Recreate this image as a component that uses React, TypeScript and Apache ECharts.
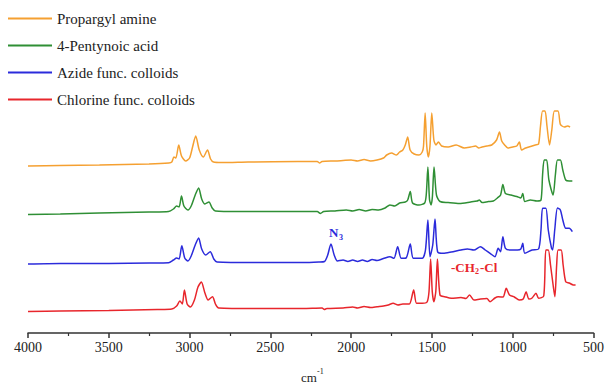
import React, { useEffect, useRef } from "react";
import * as echarts from "echarts";

const seriesNames = ["Propargyl amine", "4-Pentynoic acid", "Azide func. colloids", "Chlorine func. colloids"];
const seriesColors = ["#F5A031", "#2F8F35", "#2B2BDB", "#E8262C"];
// vertical stacking offsets of each trace
const offsets = [167, 118.5, 69, 21.5];
const xTickValues = [4000, 3500, 3000, 2500, 2000, 1500, 1000, 500];

// [wavenumber (cm-1), relative intensity]
const propargylAmine: [number, number][] = [
  [4000, 0], [3804, 0.5], [3558, 1], [3251, 2], [3128, 3], [3110, 4], [3097, 9], [3085, 8], [3067, 21],
  [3050, 10], [3024, 5], [3000, 8], [2980, 20], [2962, 30], [2940, 16], [2915, 9], [2889, 16], [2870, 7],
  [2852, 4], [2800, 3.5], [2637, 4], [2330, 4.5], [2210, 4.5], [2195, 3], [2180, 4.5], [2100, 5], [2050, 5.5],
  [2000, 6], [1960, 5], [1920, 6.5], [1880, 5], [1840, 6], [1800, 8], [1780, 11], [1750, 13], [1720, 11],
  [1700, 14], [1680, 16], [1665, 21], [1650, 29], [1635, 16], [1610, 12], [1580, 11], [1560, 14], [1552, 20],
  [1542, 53], [1532, 20], [1522, 9], [1512, 20], [1501, 53], [1488, 26], [1475, 21], [1460, 24], [1440, 20],
  [1400, 19], [1350, 21], [1300, 18], [1260, 19], [1230, 20], [1210, 18], [1190, 19], [1160, 20], [1130, 21],
  [1100, 26], [1082, 34], [1068, 25], [1050, 21], [1030, 18], [1000, 19], [975, 20], [959, 24], [945, 16],
  [920, 18], [900, 19], [860, 21], [840, 22], [828, 40], [815, 55], [800, 55], [788, 40], [772, 21], [758, 36],
  [742, 55], [720, 55], [706, 42], [695, 40], [680, 39], [660, 40], [645, 39],
];

const pentynoicAcid: [number, number][] = [
  [4000, 0], [3800, 0.5], [3558, 1.5], [3250, 2.5], [3130, 3], [3100, 5.5], [3080, 8.5], [3065, 7.5], [3050, 18.5],
  [3035, 8.5], [3010, 4.5], [2990, 8.5], [2965, 19.5], [2944, 26.5], [2925, 15.5], [2905, 10.5], [2880, 12.5],
  [2860, 6.5], [2840, 3.5], [2700, 3], [2400, 3], [2210, 3], [2190, 1], [2170, 3], [2100, 3.5], [2030, 4.5],
  [1990, 3.5], [1950, 5], [1910, 3.5], [1870, 5], [1830, 4.5], [1790, 6.5], [1760, 9.5], [1730, 8.5], [1700, 11.5],
  [1665, 12.5], [1650, 14.5], [1634, 23], [1620, 11.5], [1580, 9.5], [1545, 11.5], [1535, 20], [1525, 47.5],
  [1515, 15], [1505, 9.5], [1497, 18], [1487, 47.5], [1472, 19.5], [1450, 13], [1400, 12], [1330, 11], [1260, 12.5],
  [1220, 13.5], [1206, 14.5], [1190, 12], [1150, 13], [1120, 13.5], [1095, 16.5], [1075, 19.5], [1061, 30],
  [1045, 21], [1010, 19.5], [975, 18], [950, 16.5], [938, 21], [925, 13], [890, 14.5], [850, 13.5], [825, 14.5],
  [815, 40], [805, 54.5], [790, 54.5], [776, 34.5], [750, 19.5], [736, 39.5], [723, 54.5], [705, 54.5],
  [690, 44.5], [672, 34.5], [650, 33.5], [631, 33.5],
];

const azideColloids: [number, number][] = [
  [4000, 0], [3800, 0.5], [3500, 0.5], [3250, 1], [3130, 1.3], [3100, 4], [3080, 6], [3065, 5], [3048, 18.3],
  [3030, 6], [3010, 3], [2990, 8], [2965, 19], [2944, 26], [2925, 15], [2900, 9], [2872, 12.3], [2850, 5],
  [2830, 2], [2600, 1.5], [2300, 1.5], [2200, 2], [2165, 2.5], [2145, 9], [2125, 20], [2105, 9], [2085, 3],
  [2050, 4], [2020, 2.5], [1990, 4], [1960, 2.5], [1930, 4], [1900, 2.5], [1870, 4.5], [1840, 3.5], [1800, 5.5],
  [1760, 7.3], [1735, 5.7], [1712, 17.3], [1690, 5.7], [1660, 6], [1634, 20], [1615, 5.7], [1560, 5.7],
  [1540, 14], [1525, 44], [1512, 7.3], [1495, 19], [1481, 45], [1465, 12.3], [1430, 10.7], [1380, 12], [1320, 14],
  [1280, 15], [1240, 14], [1200, 17.3], [1170, 14], [1140, 10.7], [1110, 7.3], [1090, 15.7], [1075, 12.3],
  [1061, 27.3], [1045, 15.7], [1010, 14], [970, 14], [950, 15], [938, 20.7], [925, 10.7], [880, 14], [840, 15],
  [825, 34], [815, 55.7], [795, 55.7], [780, 34], [760, 16], [753, 14], [740, 34], [723, 56], [705, 54],
  [690, 44], [672, 35.7], [650, 35.7], [631, 32.3],
];

const chlorineColloids: [number, number][] = [
  [4000, 0], [3800, 0.5], [3500, 1], [3200, 2], [3110, 2.5], [3080, 5.5], [3060, 10.5], [3045, 7.5], [3032, 21.5],
  [3015, 7.5], [2995, 4.5], [2970, 11.5], [2948, 24.5], [2927, 29.5], [2905, 18.5], [2885, 11.5], [2858, 14.8],
  [2840, 7.5], [2820, 3.5], [2600, 3], [2300, 3], [2180, 3.5], [2166, 2], [2150, 3], [2050, 3.5], [1990, 4.5],
  [1960, 3.5], [1920, 5], [1880, 4], [1839, 4.8], [1800, 5.5], [1770, 6.5], [1740, 8.2], [1710, 6.5], [1680, 7.5],
  [1640, 7.5], [1613, 21.5], [1595, 8.2], [1560, 8.2], [1530, 9.5], [1518, 20], [1508, 52.5], [1498, 20],
  [1488, 9.8], [1476, 20], [1466, 52.5], [1450, 16.5], [1420, 14.8], [1380, 13.2], [1320, 14], [1290, 13],
  [1267, 16.5], [1240, 11.5], [1200, 12.5], [1160, 13], [1140, 9.8], [1110, 13.5], [1090, 14.8], [1060, 14.5],
  [1040, 23.2], [1020, 16.5], [990, 14.5], [960, 11.5], [935, 12.5], [917, 19.8], [900, 12.5], [880, 13.5],
  [856, 18.2], [840, 13.2], [808, 15.5], [795, 61.5], [780, 61.5], [766, 46.5], [750, 26.5], [739, 14.8],
  [728, 46.5], [719, 61.5], [700, 61.5], [688, 46.5], [672, 29.8], [650, 28.5], [625, 26.5], [611, 26.5],
];

const spectra = [propargylAmine, pentynoicAcid, azideColloids, chlorineColloids];

const serif = "Liberation Serif";

function txt(x: number, y: number, text: string, size: number, color: string, bold = false) {
  return {
    type: "text",
    x,
    y,
    style: {
      text,
      fontFamily: serif,
      fontSize: size,
      fontWeight: bold ? "bold" : "normal",
      fill: color,
      verticalAlign: "middle",
      align: "left",
    },
  };
}

export default function App() {
  const ref = useRef<HTMLDivElement>(null);
  useEffect(() => {
    if (!ref.current) return;
    const chart = echarts.init(ref.current, null, { renderer: "svg" });
    chart.setOption({
      animation: false,
      backgroundColor: "#ffffff",
      textStyle: { fontFamily: serif },
      grid: { left: 28, right: 9, top: 100, bottom: 50 },
      legend: {
        orient: "vertical",
        left: 8,
        top: 11,
        padding: 0,
        itemWidth: 44,
        itemHeight: 2,
        itemGap: 12,
        icon: "rect",
        data: seriesNames,
        textStyle: { fontFamily: serif, fontSize: 15, color: "#222" },
      },
      xAxis: {
        type: "value",
        min: 500,
        max: 4000,
        interval: 500,
        inverse: true,
        axisLine: { show: true, lineStyle: { color: "#333", width: 1.5 } },
        axisTick: { show: true, length: 5, lineStyle: { color: "#333", width: 1.5 } },
        minorTick: { show: true, splitNumber: 2, length: 3, lineStyle: { color: "#333", width: 1.2 } },
        axisLabel: {
          fontFamily: serif,
          fontSize: 14,
          color: "#222",
          margin: 7,
          formatter: (v: number) => (xTickValues.includes(v) ? String(v) : ""),
        },
        splitLine: { show: false },
      },
      yAxis: {
        type: "value",
        min: 0,
        max: 233,
        show: false,
        splitLine: { show: false },
      },
      series: spectra.map((arr, i) => ({
        name: seriesNames[i],
        type: "line",
        data: arr.map(([w, v]) => [w, v + offsets[i]]),
        showSymbol: false,
        symbol: "none",
        smooth: 0.25,
        lineStyle: { color: seriesColors[i], width: 1.5 },
        itemStyle: { color: seriesColors[i] },
      })),
      graphic: [
        txt(329, 232, "N", 13, "#2B2BDB", true),
        txt(339, 237, "3", 8, "#2B2BDB", true),
        txt(451, 267, "-CH", 13, "#E8262C", true),
        txt(475, 271, "2", 8, "#E8262C", true),
        txt(480, 267, "-Cl", 13, "#E8262C", true),
        txt(301, 377, "cm", 13, "#222"),
        txt(317, 371, "-1", 8, "#222"),
      ],
    });
    return () => chart.dispose();
  }, []);
  return (
    <div
      ref={ref}
      style={{ position: "fixed", left: 0, top: 0, width: 607, height: 383, background: "#fff" }}
    />
  );
}
